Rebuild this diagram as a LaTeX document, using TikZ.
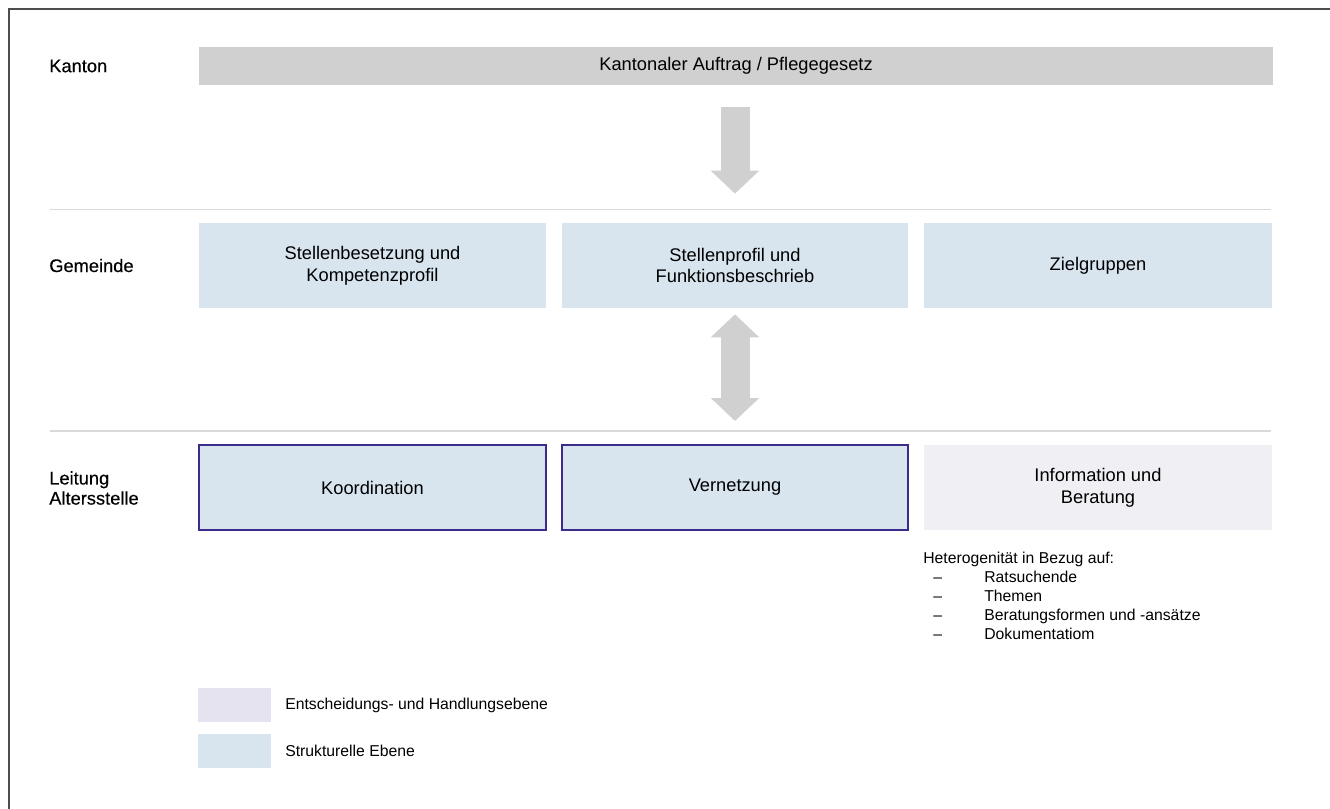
\documentclass[tikz,border=0pt]{standalone}
\usepackage{fontspec}
\setmainfont{Liberation Sans}
\newfontfamily\kheadfont[FakeBold=0.35]{Liberation Sans}
\usepackage{xcolor}
\usepackage{tikz}
\usetikzlibrary{arrows.meta}
\definecolor{kgray}{HTML}{D0D0D0}
\definecolor{kblue}{HTML}{D8E5EF}
\definecolor{klilac}{HTML}{EFEFF4}
\definecolor{klegend}{HTML}{E5E3EF}
\definecolor{kline}{HTML}{D9D9D9}
\definecolor{kframe}{HTML}{4D4D4D}
\definecolor{kindigo}{HTML}{3B2C8C}
\tikzset{
  kbase/.style={inner sep=0pt, align=center, font=\fontsize{13}{15.4}\selectfont},
  bluebox/.style={kbase, fill=kblue},
  lilacbox/.style={kbase, fill=klilac},
  graybar/.style={kbase, fill=kgray},
  keybox/.style={kbase, fill=kblue, draw=kindigo, line width=1.4pt},
  legendbox/.style={kbase, fill=#1},
  rowlabel/.style={anchor=west, inner sep=0pt, align=left,
    font=\kheadfont\fontsize{13}{14.3}\selectfont},
  smalltext/.style={inner sep=0pt, align=left, font=\fontsize{11.2}{13.5}\selectfont},
  sepline/.style={kline, line width=1.1pt},
  bigarrow/.style={kgray, line width=0.725cm,
    -{Triangle[length=0.575cm, width=1.175cm]}},
  twoarrow/.style={kgray, line width=0.725cm,
    {Triangle[length=0.575cm, width=1.175cm]}-{Triangle[length=0.575cm, width=1.175cm]}}
}
% box from (x1,y1) to (x2,y2), in pixels of the sheet
\newcommand{\kbox}[7]{%
  \node[#2, minimum width={(#5-#3)*0.025cm}, minimum height={(#6-#4)*0.025cm}]
    (#1) at ({(#3+#5)/2},{(#4+#6)/2}) {#7};}
\newcommand{\kitem}[1]{\hspace*{0.25cm}\makebox[1.275cm][l]{--}#1}

\begin{document}
\begin{tikzpicture}[x=0.025cm, y=-0.025cm]
  \useasboundingbox (0,0) rectangle (1330,809);
  \draw[kframe, line width=1.4pt] (9,809) -- (9,9) -- (1330,9);

  % level labels
  \node[rowlabel] (kanton) at (49,66) {Kanton};
  \node[rowlabel] (gemeinde) at (49,265.5) {Gemeinde};
  \node[rowlabel] (leitung) at (49,488) {Leitung\\Altersstelle};

  % Kanton
  \kbox{auftrag}{graybar}{199}{47}{1273}{85}{Kantonaler Auftrag / Pflegegesetz}
  \draw[sepline] (50,209.5) -- (1271,209.5);

  % Gemeinde
  \kbox{besetzung}{bluebox}{199}{223}{546}{308}{Stellenbesetzung und\\Kompetenzprofil}
  \kbox{profil}{bluebox}{562}{223}{908}{308}{Stellenprofil und\\Funktionsbeschrieb}
  \kbox{ziel}{bluebox}{924}{223}{1272}{308}{Zielgruppen}
  \draw[sepline] (50,431) -- (1271,431);

  % Leitung Altersstelle
  \kbox{koord}{keybox}{199}{445}{546}{530}{Koordination}
  \kbox{vernetz}{keybox}{562}{445}{908}{530}{Vernetzung}
  \kbox{info}{lilacbox}{924}{445}{1272}{530}{Information und\\Beratung}
  \node[smalltext, anchor=north west] (hetero) at (923,552) {Heterogenität in Bezug auf:\\
    \kitem{Ratsuchende}\\ \kitem{Themen}\\ \kitem{Beratungsformen und -ansätze}\\
    \kitem{Dokumentatiom}};

  % arrows
  \draw[bigarrow, shorten <=0.55cm, shorten >=0.725cm] (auftrag.south -| profil.north) -- (profil.north);
  \draw[twoarrow, shorten <=0.15cm, shorten >=0.575cm] (profil.south) -- (vernetz.north);

  % legend
  \kbox{keyentsch}{legendbox=klegend}{198}{688}{271}{722}{}
  \kbox{keystrukt}{legendbox=kblue}{198}{734}{271}{768}{}
  \node[smalltext, anchor=west] (keyentschtext) at (285,705) {Entscheidungs- und Handlungsebene};
  \node[smalltext, anchor=west] (keystrukttext) at (285,751) {Strukturelle Ebene};
\end{tikzpicture}
\end{document}
